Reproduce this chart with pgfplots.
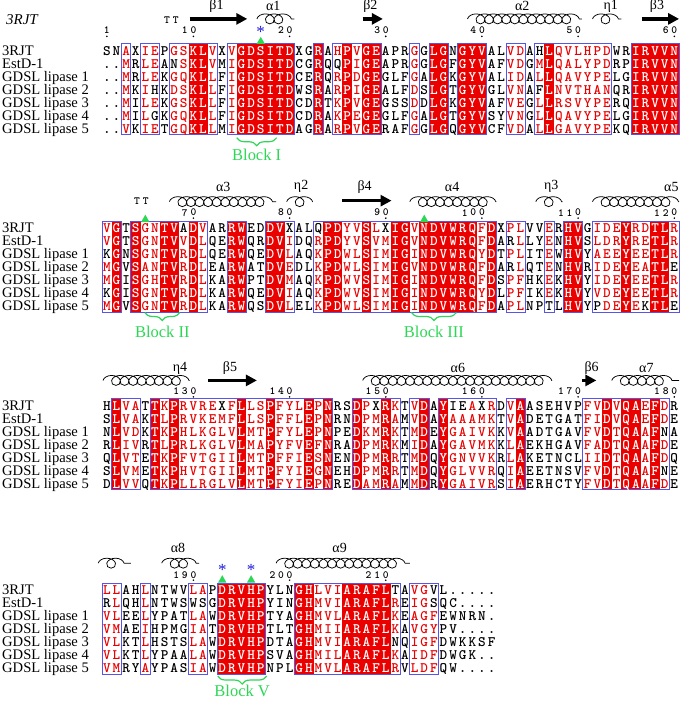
\documentclass[border=0pt]{standalone}
\usepackage{pgfplots}
\pgfplotsset{compat=1.18}
\usepackage{fontspec}
\setmainfont{Liberation Serif}
\usetikzlibrary{decorations.pathmorphing,decorations.pathreplacing,arrows.meta}
\definecolor{espred}{RGB}{235,0,0}
\definecolor{espblue}{RGB}{85,85,235}
\definecolor{espgreen}{RGB}{45,215,85}
\definecolor{starblue}{RGB}{30,30,220}

\newcount\colcnt
\def\colw{9.63}
\def\xz{107}
\def\rowh{13}
\newcommand\seqfont{\ttfamily\bfseries\fontsize{14.5bp}{14.5bp}\selectfont}
\newcommand\numfont{\ttfamily\bfseries\fontsize{11bp}{11bp}\selectfont}
\newcommand\lblfont{\fontsize{14.6bp}{14.6bp}\selectfont}
\newcommand\ssfont{\fontsize{14bp}{14bp}\selectfont}

% ---------- alignment data (4 blocks x 7 sequences; - = gap, shown as .) ----------
\def\seqsA{SNAXIEPGSKLVXVGDSITDXGRAHPVGEAPRGGLGNGYVALVDAHLQVLHPDWRIRVVN,
--MRLEANSKLVMIGDSITDCGRQQPIGEAPRGGLGFGYVAFVDGMLQALYPDRPIRVVN,
--MRLEKGQKLLFIGDSITDCERQRPDGEGLFGALGKGYVALIDALLQAVYPELGIRVVN,
--MKIHKDSKLLFIGDSITDWSRARPIGEALFDSLGTGYVGLVNAFLNVTHANQRIRVVN,
--MILEKGSKLLFIGDSITDCDRTKPVGEGSSDDLGKGYVAFVEGLLRSVYPERQIRVVN,
--MILGKGQKLLFIGDSITDCDRAKPEGEGLFGALGTGYVSYVNGLLQAVYPELGIRVVN,
--VKIETGQKLLMIGDSITDAGRARPVGERAFGGLGQGYVCFVDALLGAVYPEKQIRVVN}
\def\seqsB{VGTSGNTVADVARRWEDDVXALQPDYVSLXIGVNDVWRQFDXPLVVERHVGIDEYRDTLR,
VGTSGNTVVDLQERWQRDVIDQRPDYVSVMIGVNDVWRQFDARLLYENHVSLDRYRETLR,
KGNSGNTVRDLQERWQEDVLAQKPDWLSIMIGINDVWRQYDTPLITEWHVYAEEYEETLR,
MGVSANTVRDLEARWATDVEDLKPDWLSIMIGVNDVWRQFDARLQTENHVRIDEYEATLE,
MGISGHTVRDLKARWPTDVMAQKPDWVSIMIGINDVWRQFDSPFHKEKHVYIDEYEETLR,
KGISGNTVRDLKARWQEDVIAQKPDWVSIMIGINDVWRQYDLPFIKEKHVYVDEYEETLR,
MGVSGNTVRDLKARWQSDVLELKPDWLSIMIGINDVWRQFDAPLNPTLHVYPDEYEKTLE}
\def\seqsC{HLVATTKPRVREXFLLSPFYLEPNRSDPXRKTVDAYIEAXRDVAASEHVPFVDVQAEFDR,
SLVAKTLPRVKEMFLLSPFFLEPNRNDPMRAMVDAYAAAMKTVADETGATFIDVQAEFDE,
NLVDKTKPHLKGLVLMTPFYLEPNPEDKMRKTMDEYGAIVKKVAADTGAVFVDTQAAFNA,
RLIVRTLPRLKGLVLMAPYFVEFNRADPMRKMIDAYGAVMKKLAEKHGAVFADTQAAFDE,
QLVTETKPFVTGIILMTPFFIESNENDPMRRTMDQYGNVVKRLAKETNCLIIDTQAAFDQ,
SLVMETKPHVTGIILMTPFYIEGNEHDPMRRTMDQYGLVVRQIAEETNSVFVDTQAAFNE,
DLVVQTKPLLRGLVLMTPFYIEPNREDAMRAMMDRYGAIVRSIAERHCTYFVDTQAAFDE}
\def\seqsD{LLAHLNTWVLAPDRVHPYLNGHLVIARAFLTAVGVL-----,
RLQHLNTWSWSGDRVHPYINGHMVIARAFLREIGSQC----,
VLEELYPATLAWDRVHPTYAGHMVLARAFLKEAGFEWNRN-,
VMAEIHPMGIATDRVHPTLTGHMIIARAFLKAVGYPV----,
VLKTLHSTSLAWDRVHPDTAGHMVIARAFLNQIGFDWKKSF,
VLKTLYPAALAWDRVHPSVAGHMILARAFLKAIDFDWGK--,
VMRYAYPASIAWDRVHPNPLGHMVLARAFLRVLDFQW----}
% conserved column ranges (red background) and similarity boxes
\def\fillA{10/11,15/20,23/23,26/26,28/29,35/36,38/40,47/47,56/60}
\def\boxA{3/3,5/6,8/12,14/20,23/23,25/29,33/33,35/36,38/40,43/44,46/53,56/60}
\def\fillB{2/2,4/4,7/8,10/10,14/15,18/19,24/25,28/28,31/32,34/39,41/41,49/50,55/55,58/59}
\def\boxB{1/2,4/11,14/15,18/20,23/41,43/44,47/47,49/50,52/60}
\def\fillC{2/2,6/6,8/8,15/15,18/18,22/22,24/24,27/27,30/30,34/34,36/36,44/44,53/53,55/56,58/58}
\def\boxC{2/4,6/24,27/31,33/34,36/41,43/44,51/59}
\def\fillD{13/17,21/22,26/30}
\def\boxD{1/2,5/5,10/11,13/17,21/31,33/35}

% ---------- helpers ----------
\newcommand\setfills[2]{\foreach \a/\b in #2{\foreach \c in {\a,...,\b}{\expandafter\gdef\csname cl-#1-\c\endcsname{c}}}}
\newcommand\setboxes[2]{\foreach \a/\b in #2{\foreach \c in {\a,...,\b}{\ifcsname cl-#1-\c\endcsname\else\expandafter\gdef\csname cl-#1-\c\endcsname{b}\fi}}}
\newcommand\setblack[2]{\foreach \rc in {#2}{\expandafter\gdef\csname ex-#1-\rc\endcsname{x}}}
\setfills{1}{\fillA}\setboxes{1}{\boxA}
\setfills{2}{\fillB}\setboxes{2}{\boxB}
\setfills{3}{\fillC}\setboxes{3}{\boxC}
\setfills{4}{\fillD}\setboxes{4}{\boxD}
\setblack{1}{1-46,4-46,2-25,2-8,4-6,6-6}
\setblack{2}{3-1,6-1,1-9,1-20,1-23,1-30,2-43,4-43,7-47,7-52,7-57,4-60,7-60}
\setblack{3}{1-13,1-29,1-37,1-38,1-40,3-59,6-59}
\setblack{4}{2-1,2-10,2-11,1-31,5-31,1-35,2-35}

\def\curblk{1}\def\currow{1}\def\cury{0}
\def\placechar#1{%
  \global\advance\colcnt by 1
  \pgfmathsetmacro\cx{\xz+(\the\colcnt-1)*\colw}%
  \def\lc{black}%
  \def\ch{#1}%
  \ifcsname cl-\curblk-\the\colcnt\endcsname
    \if c\csname cl-\curblk-\the\colcnt\endcsname\def\lc{white}\else\def\lc{espred}\fi
  \fi
  \ifcsname ex-\curblk-\currow-\the\colcnt\endcsname\def\lc{black}\fi
  \ifx#1-\def\lc{black}\def\ch{.}\fi
  \node[text=\lc,font=\seqfont,anchor=base,inner sep=0pt] at (axis cs:\cx,\cury) {\ch};%
}
\def\parseseq#1{\ifx#1\relax\else\placechar#1\expandafter\parseseq\fi}

\newcommand\drawblock[5]{% blk, y0, seqs, fills, boxes
  \pgfmathsetmacro\ya{#2-6.5}\pgfmathsetmacro\yb{#2+6*\rowh+6.5}%
  \foreach \a/\b in #4{%
    \pgfmathsetmacro\xa{\xz+(\a-1.5)*\colw}\pgfmathsetmacro\xb{\xz+(\b-0.5)*\colw}%
    \fill[espred] (axis cs:\xa,\ya) rectangle (axis cs:\xb,\yb);}%
  \foreach \a/\b in #5{%
    \pgfmathsetmacro\xa{\xz+(\a-1.5)*\colw}\pgfmathsetmacro\xb{\xz+(\b-0.5)*\colw}%
    \draw[espblue,line width=0.9bp] (axis cs:\xa,\ya) rectangle (axis cs:\xb,\yb);}%
  \def\curblk{#1}%
  \foreach \s [count=\r] in #3{%
    \global\colcnt=0
    \edef\currow{\r}%
    \pgfmathsetmacro\cury{#2+(\r-1)*\rowh+4.8}%
    \expandafter\parseseq\s\relax}%
  \foreach \n [count=\r] in {3RJT,EstD-1,GDSL lipase 1,GDSL lipase 2,GDSL lipase 3,GDSL lipase 4,GDSL lipase 5}{%
    \pgfmathsetmacro\cury{#2+(\r-1)*\rowh+4.8}%
    \node[font=\lblfont,anchor=base west,inner sep=0pt] at (axis cs:2,\cury) {\n};}%
}
\newcommand\numlabs[3]{% ydigits, ydot, list col/number
  \foreach \c/\v in {#3}{%
    \pgfmathsetmacro\xc{\xz+(\c-1)*\colw}%
    \fill (axis cs:\xc,#2) circle[radius=0.9bp];
    \pgfmathtruncatemacro\nd{\v<10 ? 1 : (\v<100 ? 2 : 3)}%
    \foreach \k in {1,...,\nd}{%
      \pgfmathtruncatemacro\dig{mod(floor(\v/(10^(\k-1))),10)}%
      \pgfmathsetmacro\xd{\xc-(\k-1)*8.6}%
      \node[font=\numfont,inner sep=0pt] at (axis cs:\xd,#1) {\dig};}}%
}
\newcommand\coil[3]{%
  \pgfmathsetmacro\xa{\xz+(#2-1)*\colw}\pgfmathsetmacro\xb{\xz+(#3-1)*\colw}%
  \draw[line width=0.75bp,decorate,decoration={coil,aspect=1.3,segment length=8.6bp,amplitude=5bp}] (axis cs:\xa,#1) -- (axis cs:\xb,#1);}
\newcommand\strand[3]{%
  \pgfmathsetmacro\xa{\xz+(#2-1)*\colw}\pgfmathsetmacro\xb{\xz+(#3-1)*\colw}%
  \draw[line width=3.5bp,-{Triangle[length=11bp,width=11bp]}] (axis cs:\xa,#1) -- (axis cs:\xb,#1);}
\newcommand\sslab[3]{%
  \pgfmathsetmacro\xa{\xz+(#2-1)*\colw}%
  \node[font=\ssfont,inner sep=0pt] at (axis cs:\xa,#1) {#3};}
\newcommand\ttlab[2]{%
  \pgfmathsetmacro\xa{\xz+(#2-1)*\colw}%
  \node[font=\numfont,inner sep=0pt] at (axis cs:\xa,#1) {T\hspace{3bp}T};}
\newcommand\tri[3]{% col, tip y, base y
  \pgfmathsetmacro\xa{\xz+(#1-1)*\colw}\pgfmathsetmacro\xl{\xa-4.2}\pgfmathsetmacro\xr{\xa+4.2}%
  \fill[espgreen] (axis cs:\xl,#3) -- (axis cs:\xr,#3) -- (axis cs:\xa,#2) -- cycle;}
\newcommand\astmark[2]{%
  \pgfmathsetmacro\xa{\xz+(#1-1)*\colw}%
  \node[font=\fontsize{17bp}{17bp}\selectfont,text=starblue,inner sep=0pt] at (axis cs:\xa,#2) {*};}
\newcommand\blocklab[5]{% x1,x2,y,ytext,text
  \draw[espgreen,line width=1.2bp,decorate,decoration={brace,mirror,amplitude=8bp}] (axis cs:#1,#3) -- (axis cs:#2,#3);
  \pgfmathsetmacro\xa{(#1+#2)/2}%
  \node[font=\fontsize{16.5bp}{16.5bp}\selectfont,text=espgreen,inner sep=0pt] at (axis cs:\xa,#4) {#5};}

\begin{document}
\begin{tikzpicture}
\begin{axis}[width=680bp,height=701bp,scale only axis,
  xmin=0,xmax=680,ymin=0,ymax=701,y dir=reverse,
  hide axis,clip=false]
\addplot[draw=none] coordinates {(0,0) (680,701)};
\pgfplotsextra{
  \path (axis cs:0,0) rectangle (axis cs:680,701);
  \node[font=\itshape\fontsize{15bp}{15bp}\selectfont,anchor=west,inner sep=0pt] at (axis cs:6,19) {3RJT};
  % ---- block 1
  \drawblock{1}{49.5}{\seqsA}{\fillA}{\boxA}
  \numlabs{29.5}{35.5}{1/1,10/10,20/20,30/30,40/40,50/50,60/60}
  \ttlab{19}{7.7}
  \strand{18}{9.6}{15.6}\sslab{5.5}{12.4}{β1}
  \coil{18}{16.6}{20.5}\sslab{5.5}{18.3}{α1}
  \strand{18}{27.6}{29.7}\sslab{5.5}{28.4}{β2}
  \coil{18}{38.5}{50.4}\sslab{5.5}{44.2}{α2}
  \coil{18}{51.5}{54.5}\sslab{5.5}{53.4}{η1}
  \strand{18}{56.6}{60.5}\sslab{5.5}{58.2}{β3}
  \astmark{17}{31}\tri{17}{36}{43}
  \blocklab{237}{277}{137}{154}{Block I}
  % ---- block 2
  \drawblock{2}{227.5}{\seqsB}{\fillB}{\boxB}
  \numlabs{212}{217.5}{10/70,20/80,30/90,40/100,50/110,60/120}
  \ttlab{200}{4.6}
  \coil{201}{7.5}{18.6}\sslab{186}{13.1}{α3}
  \coil{201}{19.7}{22.4}\sslab{186}{21.2}{η2}
  \strand{200}{25.5}{30.6}\sslab{186}{27.8}{β4}
  \coil{201}{32.5}{41.5}\sslab{186}{36.9}{α4}
  \coil{201}{45.6}{48.4}\sslab{186}{47.2}{η3}
  \coil{201}{51.5}{60.5}\sslab{186}{59.7}{α5}
  \tri{5}{214}{221.5}\tri{34}{214}{221.5}
  \blocklab{145}{180}{312}{331}{Block II}
  \blocklab{412}{457}{312}{331}{Block III}
  % ---- block 3
  \drawblock{3}{405}{\seqsC}{\fillC}{\boxC}
  \numlabs{391}{396.5}{10/130,20/140,30/150,40/160,50/170,60/180}
  \coil{380}{0.6}{9.6}\sslab{367.5}{8.6}{η4}
  \strand{380}{11.5}{16.6}\sslab{367.5}{13.8}{β5}
  \coil{380}{27.6}{47.3}\sslab{367.5}{37.5}{α6}
  \strand{380}{50.4}{51.9}\sslab{367.5}{51.4}{β6}
  \coil{380}{53.5}{60.5}\sslab{367.5}{57.1}{α7}
  % ---- block 4
  \drawblock{4}{589.5}{\seqsD}{\fillD}{\boxD}
  \numlabs{575}{580}{10/190,20/200,30/210}
  \coil{563}{0.1}{3.5}
  \coil{563}{6.7}{10.6}\sslab{548}{8.4}{α8}
  \coil{563}{18.6}{32.5}\sslab{548}{25.2}{α9}
  \astmark{13}{570}\astmark{16}{570}
  \tri{13}{575}{582.5}\tri{16}{575}{582.5}
  \blocklab{218}{267}{676}{690.5}{Block V}
}
\end{axis}
\end{tikzpicture}
\end{document}
